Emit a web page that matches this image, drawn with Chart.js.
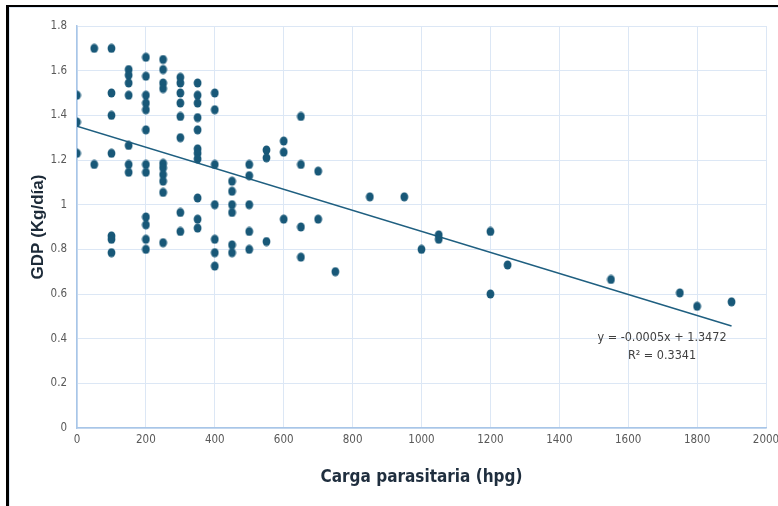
<!DOCTYPE html>
<html>
<head>
<meta charset="utf-8">
<script src="https://cdn.jsdelivr.net/npm/chart.js@4.4.1/dist/chart.umd.min.js"></script>
<style>
  html, body { margin: 0; padding: 0; background: #fff; }
  #wrap { position: relative; width: 778px; height: 506px; overflow: hidden; }
  #grafico { position: absolute; left: 0; top: 0; }
  #marco { position: absolute; left: 6px; top: 5px; right: -10px; bottom: -10px;
           border-left: 3px solid #000; border-top: 2px solid #000; pointer-events: none; }
  #marcoInt { position: absolute; left: 9px; top: 7px; right: -10px; bottom: -10px;
              border-left: 1px solid #dde8f5; border-top: 1px solid #dde8f5; pointer-events: none; }
</style>
</head>
<body>
<div id="wrap">
  <canvas id="grafico" width="778" height="506"></canvas>
  <div id="marcoInt"></div>
  <div id="marco"></div>
</div>
<script>
// Carga parasitaria (hpg) y GDP (Kg/día), por pares
const cargaHpg = [
  0, 0, 0,
  50, 50,
  100, 100, 100, 100, 100, 100, 100,
  150, 150, 150, 150, 150, 150, 150,
  200, 200, 200, 200, 200, 200, 200, 200, 200, 200, 200, 200,
  250, 250, 250, 250, 250, 250, 250, 250, 250, 250,
  300, 300, 300, 300, 300, 300, 300, 300,
  350, 350, 350, 350, 350, 350, 350, 350, 350, 350, 350,
  400, 400, 400, 400, 400, 400, 400,
  450, 450, 450, 450, 450, 450,
  500, 500, 500, 500, 500,
  550, 550, 550,
  600, 600, 600,
  650, 650, 650, 650,
  700, 700,
  750, 850, 950, 1000,
  1050, 1050,
  1200, 1200,
  1250, 1550, 1750, 1800, 1900
];
const gdpKg = [
  1.49, 1.37, 1.23,
  1.70, 1.18,
  1.70, 1.50, 1.40, 1.23, 0.86, 0.845, 0.785,
  1.605, 1.58, 1.545, 1.49, 1.265, 1.18, 1.145,
  1.66, 1.575, 1.49, 1.455, 1.425, 1.335, 1.18, 1.145, 0.945, 0.91, 0.845, 0.80,
  1.65, 1.605, 1.545, 1.52, 1.185, 1.165, 1.135, 1.105, 1.055, 0.83,
  1.57, 1.545, 1.50, 1.455, 1.395, 1.30, 0.965, 0.88,
  1.545, 1.49, 1.455, 1.39, 1.335, 1.25, 1.23, 1.205, 1.03, 0.935, 0.895,
  1.50, 1.425, 1.18, 1.00, 0.845, 0.785, 0.725,
  1.105, 1.06, 1.00, 0.965, 0.82, 0.785,
  1.18, 1.13, 1.00, 0.88, 0.80,
  1.245, 1.21, 0.835,
  1.285, 1.235, 0.935,
  1.395, 1.18, 0.90, 0.765,
  1.15, 0.935,
  0.70, 1.035, 1.035, 0.80,
  0.865, 0.845,
  0.88, 0.60,
  0.73, 0.665, 0.605, 0.545, 0.565
];
const ecuacion = 'y = -0.0005x + 1.3472';
const r2Texto = 'R² = 0.3341';

const colorPunto = '#185878';
const colorGrid = '#dce7f5';
const fuenteAngosta = "'Liberation Sans Narrow', 'DejaVu Sans Condensed', 'Arial Narrow', sans-serif";

// puntos
const puntos = cargaHpg.map((x, i) => ({ x: x, y: gdpKg[i] }));

// linea de tendencia por minimos cuadrados
const n = puntos.length;
let sx = 0, sy = 0, sxx = 0, sxy = 0;
puntos.forEach(p => { sx += p.x; sy += p.y; sxx += p.x * p.x; sxy += p.x * p.y; });
const pendiente = (n * sxy - sx * sy) / (n * sxx - sx * sx);
const intercepto = (sy - pendiente * sx) / n;
const xMin = Math.min(...cargaHpg), xMax = Math.max(...cargaHpg);
const tendencia = [
  { x: xMin, y: intercepto + pendiente * xMin },
  { x: xMax, y: intercepto + pendiente * xMax }
];

// marcador eliptico (como en Excel)
const marcador = document.createElement('canvas');
marcador.width = 9; marcador.height = 10;
const mctx = marcador.getContext('2d');
mctx.fillStyle = colorPunto;
mctx.beginPath();
mctx.ellipse(4.5, 5, 3.9, 4.6, 0, 0, Math.PI * 2);
mctx.fill();

const textoTendencia = {
  id: 'textoTendencia',
  afterDatasetsDraw(chart) {
    const { ctx, chartArea } = chart;
    ctx.save();
    ctx.fillStyle = '#404040';
    ctx.font = '12.5px ' + fuenteAngosta;
    ctx.textAlign = 'center';
    ctx.textBaseline = 'middle';
    const cx = chartArea.right - 104;
    ctx.fillText(ecuacion, cx, chartArea.top + 312);
    ctx.fillText(r2Texto, cx, chartArea.top + 330);
    ctx.restore();
  }
};

new Chart(document.getElementById('grafico').getContext('2d'), {
  type: 'scatter',
  data: {
    datasets: [
      {
        data: puntos,
        pointStyle: marcador,
        pointRadius: 4,
        backgroundColor: colorPunto,
        borderWidth: 0
      },
      {
        type: 'line',
        data: tendencia,
        borderColor: '#1f5f80',
        borderWidth: 1.5,
        pointRadius: 0,
        fill: false
      }
    ]
  },
  options: {
    responsive: false,
    animation: false,
    layout: { padding: { left: 0, top: 26, right: 12, bottom: 0 } },
    plugins: { legend: { display: false }, tooltip: { enabled: false } },
    scales: {
      x: {
        type: 'linear', min: 0, max: 2000,
        ticks: {
          stepSize: 200, padding: 5, color: '#595959',
          font: { family: fuenteAngosta, size: 11.5 },
          callback: v => String(v)
        },
        grid: { color: colorGrid, drawTicks: false },
        border: { color: '#a8c6e8', width: 1.5 },
        title: {
          display: true, text: 'Carga parasitaria (hpg)', color: '#1f2e3e',
          font: { family: fuenteAngosta, size: 17, weight: 'bold' },
          padding: { top: 0, bottom: 18 }
        },
        afterFit: s => { s.height = 78; s.paddingLeft = 0; s.paddingRight = 0; }
      },
      y: {
        min: 0, max: 1.8,
        ticks: {
          stepSize: 0.2, padding: 10, color: '#595959',
          font: { family: fuenteAngosta, size: 11.5 },
          callback: v => String(Number(v.toFixed(1)))
        },
        grid: { color: colorGrid, drawTicks: false },
        border: { color: '#a8c6e8', width: 1.5 },
        title: {
          display: true, text: 'GDP (Kg/día)', color: '#1c2a38',
          font: { family: "'Liberation Sans', Arial, sans-serif", size: 17, weight: 'bold' },
          padding: { top: 28, bottom: 0 }
        },
        afterFit: s => { s.width = 77; s.paddingTop = 0; s.paddingBottom = 0; }
      }
    }
  },
  plugins: [textoTendencia]
});
</script>
</body>
</html>
